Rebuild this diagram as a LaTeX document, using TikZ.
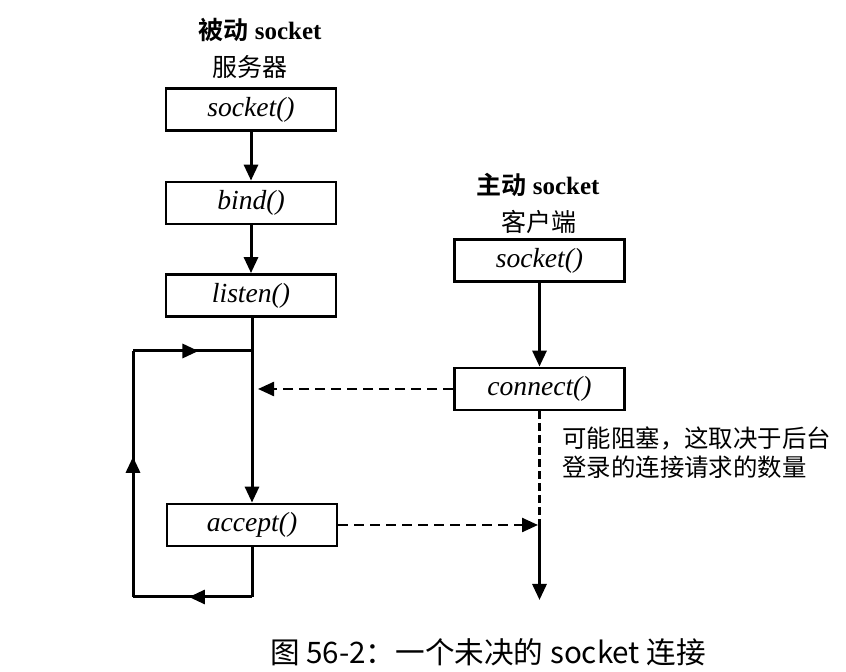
\documentclass[tikz,border=0pt]{standalone}
\usepackage{fontspec}
\setmainfont{Liberation Serif}
\newfontfamily\cjk{Noto Sans CJK SC}
\newfontfamily\cjkbold{Noto Sans CJK SC Bold}
\usetikzlibrary{arrows.meta,decorations.markings}
\tikzset{
  fn/.style={draw, line width=1.4pt, minimum width=85pt, minimum height=21pt, inner sep=0pt, font=\fontsize{13.8}{15}\selectfont\itshape},
  flow/.style={line width=1.5pt, -{Triangle[length=8pt,width=7pt]}},
  loopline/.style={line width=1.5pt},
  dashflow/.style={line width=1.2pt, dash pattern=on 5pt off 3pt, -{Triangle[length=8pt,width=7pt]}},
  dashline/.style={line width=1.4pt, dash pattern=on 4pt off 2pt},
  midtip/.style={decoration={markings, mark=at position #1 with {\arrow{Triangle[length=8pt,width=7pt]}}}, postaction={decorate}},
  ttl/.style={font=\fontsize{12.5}{14}\selectfont}
}
\begin{document}
\begin{tikzpicture}[x=0.5pt, y=-0.5pt]
		%%%%% START %%%%%
		\useasboundingbox (0,0) rectangle (846,672);
		
		% server side
		\node[ttl] (srvtitle) at (260, 30) {{\cjkbold 被动} \textbf{socket}};
		\node[ttl] (srvname) at (250, 67) {\cjk 服务器};
		\node[fn] (ssock) at (251, 109.5) {socket()};
		\node[fn] (sbind) at (251, 203) {bind()};
		\node[fn] (slisten) at (251, 295.5) {listen()};
		\node[fn] (saccept) at (252, 525) {accept()};
		
		\draw[flow] (ssock) -- (sbind);
		\draw[flow] (sbind) -- (slisten);
		\draw[flow] (slisten.south -| saccept.north) -- (saccept);
		
		\coordinate (loopA) at (252, 597);
		\coordinate (loopB) at (133, 597);
		\coordinate (loopC) at (133, 351);
		\coordinate (loopD) at (252, 351);
		\draw[loopline] (saccept.south) -- (loopA);
		\draw[loopline, midtip=0.53] (loopA) -- (loopB);
		\draw[loopline, midtip=0.57] (loopB) -- (loopC);
		\draw[loopline, midtip=0.55] (loopC) -- (loopD);
		
		% client side
		\node[ttl] (clititle) at (538, 185) {{\cjkbold 主动} \textbf{socket}};
		\node[ttl] (cliname) at (539, 222) {\cjk 客户端};
		\node[fn] (csock) at (539.5, 260.5) {socket()};
		\node[fn] (cconnect) at (539.5, 389) {connect()};
		\draw[flow] (csock) -- (cconnect);
		
		\coordinate (srvin) at (258, 389);
		\coordinate (climid) at (539.5, 520);
		\coordinate (cliin) at (538, 525);
		\coordinate (cliend) at (539.5, 600);
		\draw[dashflow] (cconnect.west) -- (srvin);
		\draw[dashflow] (saccept.east) -- (cliin);
		\draw[dashline] (cconnect.south) -- (climid);
		\draw[flow] (climid) -- (cliend);
		
		\node[anchor=west, inner sep=0pt, align=left, font=\cjk\fontsize{12.2}{14.5}\selectfont] (blocknote) at (562, 452.5) {可能阻塞，这取决于后台\\登录的连接请求的数量};
		
		\node[font=\cjk\fontsize{14.8}{16}\selectfont] (caption) at (488, 652) {图 56-2：一个未决的 socket 连接};
		%%%%% END %%%%%
\end{tikzpicture}
\end{document}
